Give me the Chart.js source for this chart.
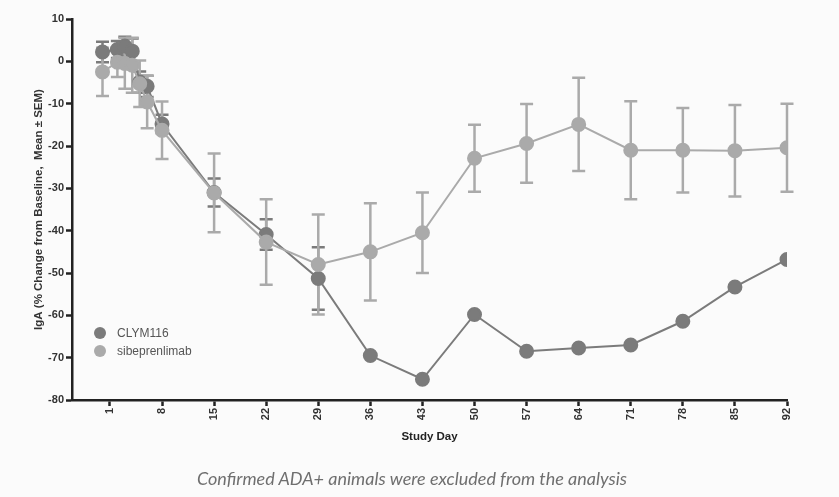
<!DOCTYPE html>
<html>
<head>
<meta charset="utf-8">
<script src="https://cdn.jsdelivr.net/npm/chart.js@4/dist/chart.umd.min.js"></script>
<style>
  html, body { margin: 0; padding: 0; background: #fbfbfb; }
  #wrap { position: relative; width: 839px; height: 497px; }
  #caption {
    position: absolute; left: 0; top: 467px; width: 824px; text-align: center;
    font-family: Lato, "Open Sans", sans-serif; font-style: italic; font-size: 18px; color: #6f6f6f;
  }
</style>
</head>
<body>
<div id="wrap">
  <canvas id="main-chart" width="839" height="497"></canvas>
  <div id="caption">Confirmed ADA+ animals were excluded from the analysis</div>
</div>
<script>
// 数据
const studyDays = [0, 2, 3, 4, 5, 6, 8, 15, 22, 29, 36, 43, 50, 57, 64, 71, 78, 85, 92];
const xTickDays = [1, 8, 15, 22, 29, 36, 43, 50, 57, 64, 71, 78, 85, 92];
const yTickValues = [10, 0, -10, -20, -30, -40, -50, -60, -70, -80];

const clymMean = [2.2, 2.8, 3.6, 2.4, -4.9, -5.9, -14.8, -31.0, -40.9, -51.3, -69.5, -75.1, -59.8, -68.5, -67.7, -67.0, -61.4, -53.3, -46.8];
const clymSem  = [2.4, 2.0, 2.2, 3.0, 2.5, 2.5, 2.2, 3.3, 3.6, 7.4, null, null, null, null, null, null, null, null, null];

const sibeMean = [-2.5, -0.2, -0.5, -0.9, -5.3, -9.6, -16.3, -31.1, -42.7, -48.0, -45.0, -40.5, -22.9, -19.4, -14.9, -21.0, -21.0, -21.1, -20.4];
const sibeSem  = [5.7, 3.5, 6.0, 6.5, 5.5, 6.2, 6.8, 9.3, 10.1, 11.8, 11.5, 9.5, 7.9, 9.3, 11.0, 11.6, 10.0, 10.8, 10.4];

const seriesNames = ['CLYM116', 'sibeprenlimab'];
const seriesColors = ['#7b7b7b', '#aaaaaa'];

function toPoints(xs, ys, errs) {
    return xs.map((x, i) => ({ x: x, y: ys[i], err: errs[i] }));
}

// 误差线插件（画在点下面）
const errorBars = {
    id: 'errorBars',
    beforeDatasetsDraw(chart) {
        const ctx = chart.ctx;
        const yScale = chart.scales.y;
        chart.data.datasets.forEach((ds, di) => {
            const meta = chart.getDatasetMeta(di);
            ctx.save();
            ctx.strokeStyle = ds.borderColor;
            ctx.lineWidth = 2.5;
            meta.data.forEach((pt, i) => {
                const e = ds.data[i].err;
                if (e == null) return;
                const yTop = yScale.getPixelForValue(ds.data[i].y + e);
                const yBot = yScale.getPixelForValue(ds.data[i].y - e);
                ctx.beginPath();
                ctx.moveTo(pt.x, yTop); ctx.lineTo(pt.x, yBot);
                ctx.moveTo(pt.x - 6.5, yTop); ctx.lineTo(pt.x + 6.5, yTop);
                ctx.moveTo(pt.x - 6.5, yBot); ctx.lineTo(pt.x + 6.5, yBot);
                ctx.stroke();
            });
            ctx.restore();
        });
    }
};

// 图内图例
const insideLegend = {
    id: 'insideLegend',
    afterDraw(chart) {
        const ctx = chart.ctx;
        ctx.save();
        ctx.font = '12px "Liberation Sans", Arial, sans-serif';
        ctx.textBaseline = 'middle';
        chart.data.datasets.forEach((ds, i) => {
            const y = 333 + i * 18;
            ctx.fillStyle = ds.borderColor;
            ctx.beginPath();
            ctx.arc(100, y, 6, 0, Math.PI * 2);
            ctx.fill();
            ctx.fillStyle = '#555555';
            ctx.fillText(ds.label, 117, y + 1);
        });
        ctx.restore();
    }
};

const tickFont = { family: '"Liberation Sans", Arial, sans-serif', size: 11, weight: 'bold' };
const titleFont = { family: '"Liberation Sans", Arial, sans-serif', size: 11.5, weight: 'bold' };

new Chart(document.getElementById('main-chart').getContext('2d'), {
    type: 'line',
    data: {
        datasets: [
            {
                label: seriesNames[0],
                data: toPoints(studyDays, clymMean, clymSem),
                borderColor: seriesColors[0],
                backgroundColor: seriesColors[0],
                pointRadius: 6.5,
                borderWidth: 2,
                tension: 0,
                order: 1
            },
            {
                label: seriesNames[1],
                data: toPoints(studyDays, sibeMean, sibeSem),
                borderColor: seriesColors[1],
                backgroundColor: seriesColors[1],
                pointRadius: 6.5,
                borderWidth: 2,
                tension: 0,
                order: 0
            }
        ]
    },
    options: {
        responsive: false,
        animation: false,
        layout: { padding: { left: 0, top: 19, right: 52, bottom: 52 } },
        plugins: {
            legend: { display: false },
            tooltip: { enabled: false }
        },
        scales: {
            x: {
                type: 'linear',
                min: -4.1,
                max: 92,
                afterBuildTicks: (scale) => { scale.ticks = xTickDays.map(v => ({ value: v })); },
                afterFit: (scale) => { scale.height = 45; },
                ticks: {
                    color: '#333333',
                    font: tickFont,
                    minRotation: 90,
                    maxRotation: 90,
                    padding: 2
                },
                grid: {
                    drawOnChartArea: false,
                    tickLength: 6,
                    tickColor: '#222222',
                    tickWidth: 2.5
                },
                border: { color: '#222222', width: 2.5 },
                title: {
                    display: true,
                    text: 'Study Day',
                    color: '#222222',
                    font: titleFont,
                    padding: { top: 0, bottom: 1 }
                }
            },
            y: {
                type: 'linear',
                min: -80,
                max: 10,
                afterBuildTicks: (scale) => { scale.ticks = yTickValues.map(v => ({ value: v })); },
                afterFit: (scale) => { scale.width = 72; },
                ticks: {
                    color: '#333333',
                    font: tickFont,
                    padding: 2
                },
                grid: {
                    drawOnChartArea: false,
                    tickLength: 6,
                    tickColor: '#222222',
                    tickWidth: 2.5
                },
                border: { color: '#222222', width: 2.5 },
                title: {
                    display: true,
                    text: 'IgA (% Change from Baseline,  Mean \u00b1 SEM)',
                    color: '#333333',
                    font: titleFont,
                    padding: { top: 32, bottom: 0 }
                }
            }
        }
    },
    plugins: [errorBars, insideLegend]
});
</script>
</body>
</html>
